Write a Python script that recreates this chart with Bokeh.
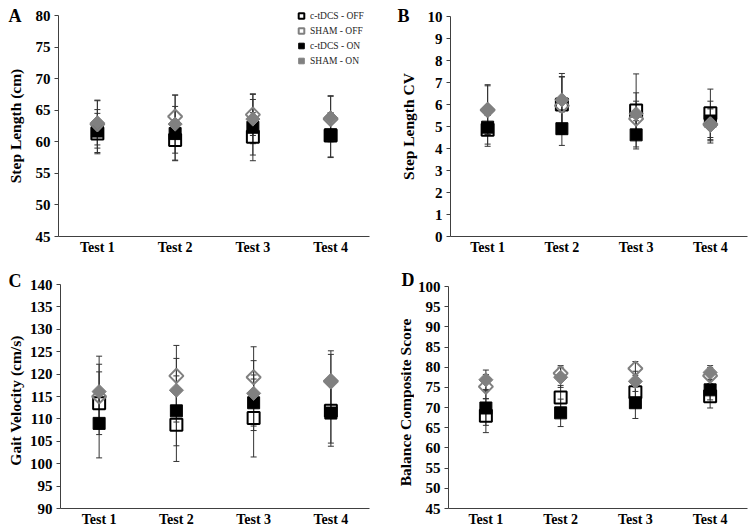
import math
from bokeh.plotting import figure
from bokeh.models import (ColumnDataSource, Whisker, TeeHead, Range1d, FactorRange,
                          SingleIntervalTicker, Legend, LegendItem, Label)
from bokeh.layouts import column, row
from bokeh.embed import file_html
from bokeh.resources import INLINE

tests = ["Test 1", "Test 2", "Test 3", "Test 4"]
series_labels = ["c-tDCS - OFF", "SHAM - OFF", "c-tDCS - ON", "SHAM - ON"]

# Panel A: Step Length (cm)
sl_ctdcs_off = [61.3, 60.3, 60.8, 61.0]
sl_ctdcs_off_sd = [3.2, 3.2, 3.8, 3.5]
sl_sham_off = [62.8, 64.0, 64.3, 63.6]
sl_sham_off_sd = [3.8, 3.4, 3.3, 3.6]
sl_ctdcs_on = [61.7, 61.3, 62.3, 61.1]
sl_ctdcs_on_sd = [3.4, 4.3, 4.4, 3.5]
sl_sham_on = [63.0, 62.8, 63.6, 63.8]
sl_sham_on_sd = [3.5, 4.6, 3.9, 3.5]

# Panel B: Step Length CV
cv_ctdcs_off = [4.85, 6.0, 5.73, 5.6]
cv_ctdcs_off_sd = [0.65, 1.27, 1.66, 1.1]
cv_sham_off = [5.75, 5.95, 5.35, 5.1]
cv_sham_off_sd = [1.1, 1.3, 0.8, 0.7]
cv_ctdcs_on = [4.97, 4.9, 4.62, 5.25]
cv_ctdcs_on_sd = [0.87, 0.76, 0.64, 0.9]
cv_sham_on = [5.77, 6.21, 5.58, 5.05]
cv_sham_on_sd = [1.13, 1.2, 0.95, 0.8]

# Panel C: Gait Velocity (cm/s)
gv_ctdcs_off = [113.5, 108.7, 110.2, 111.8]
gv_ctdcs_off_sd = [7.0, 8.2, 8.7, 7.2]
gv_sham_off = [115.0, 119.6, 119.3, 118.4]
gv_sham_off_sd = [7.2, 6.8, 6.8, 6.0]
gv_ctdcs_on = [109.0, 111.8, 113.6, 111.3]
gv_ctdcs_on_sd = [7.7, 7.8, 6.2, 7.4]
gv_sham_on = [116.1, 116.4, 115.7, 118.5]
gv_sham_on_sd = [7.9, 7.1, 7.3, 6.7]

# Panel D: Balance Composite Score
bcs_ctdcs_off = [68.0, 72.5, 73.8, 72.8]
bcs_ctdcs_off_sd = [4.2, 3.0, 2.2, 2.9]
bcs_sham_off = [75.2, 78.5, 79.7, 77.9]
bcs_sham_off_sd = [3.0, 1.9, 1.7, 2.0]
bcs_ctdcs_on = [69.9, 68.7, 71.2, 74.4]
bcs_ctdcs_on_sd = [4.3, 3.4, 3.9, 2.5]
bcs_sham_on = [76.9, 77.5, 76.5, 78.7]
bcs_sham_on_sd = [2.4, 2.5, 2.5, 1.7]

FONT = "Liberation Serif"
GRAY = "#808080"
BAR = "#333333"

STYLES = {
    "c-tDCS - OFF": dict(marker="square", size=12, angle=0, fill_color="white", fill_alpha=0,
                         line_color="black", line_width=2),
    "SHAM - OFF": dict(marker="square", size=10, angle=math.pi / 4, fill_color="white", fill_alpha=0,
                       line_color=GRAY, line_width=2),
    "c-tDCS - ON": dict(marker="square", size=12, angle=0, fill_color="black",
                        line_color="black", line_width=1),
    "SHAM - ON": dict(marker="square", size=10, angle=math.pi / 4, fill_color=GRAY,
                      line_color=GRAY, line_width=1),
}
DRAW_ORDER = ["c-tDCS - OFF", "c-tDCS - ON", "SHAM - OFF", "SHAM - ON"]


def strip(width, height, letter, letter_xy, ylabel, ylabel_xy):
    """Narrow canvas holding a panel letter and the panel's y-axis title."""
    s = figure(width=width, height=height, x_range=Range1d(0, 1), y_range=Range1d(0, 1),
               output_backend="svg", toolbar_location=None, min_border=0,
               x_axis_type=None, y_axis_type=None)
    s.frame_align = False
    s.outline_line_color = None
    s.background_fill_color = "white"
    s.border_fill_color = "white"
    s.add_layout(Label(x=letter_xy[0], y=letter_xy[1], x_units="screen", y_units="screen",
                       text=letter, text_font=FONT, text_font_style="bold",
                       text_font_size="18px", text_color="black",
                       text_align="left", text_baseline="alphabetic"))
    s.add_layout(Label(x=ylabel_xy[0], y=ylabel_xy[1], x_units="screen", y_units="screen",
                       text=ylabel, angle=math.pi / 2, text_font=FONT, text_font_style="bold",
                       text_font_size="15.5px", text_color="black",
                       text_align="center", text_baseline="middle"))
    return s


def make_panel(ystart, yend, interval, series, width, height,
               bl, br, bt, bb, legend=False, top_extra=0, tick_standoff=4, tick_out=4):
    frame_h = height - bt - bb
    y_top = ystart + (yend - ystart) * frame_h / (frame_h - top_extra)
    p = figure(x_range=FactorRange(factors=tests), y_range=Range1d(ystart, y_top),
               width=width, height=height, output_backend="svg", toolbar_location=None,
               min_border_left=bl, min_border_right=br, min_border_top=bt, min_border_bottom=bb)
    p.frame_align = False
    p.outline_line_color = None
    p.grid.grid_line_color = None
    p.background_fill_color = "white"
    p.border_fill_color = "white"

    p.yaxis.ticker = SingleIntervalTicker(interval=interval)
    p.yaxis.bounds = (ystart, yend)
    p.yaxis.major_label_text_font = FONT
    p.yaxis.major_label_text_font_style = "bold"
    p.yaxis.major_label_text_font_size = "15px"
    p.yaxis.major_label_text_color = "black"
    p.yaxis.major_label_standoff = tick_standoff
    p.yaxis.major_tick_in = 0
    p.yaxis.major_tick_out = tick_out
    p.yaxis.minor_tick_out = 0
    p.yaxis.minor_tick_in = 0

    p.xaxis.major_label_text_font = FONT
    p.xaxis.major_label_text_font_style = "bold"
    p.xaxis.major_label_text_font_size = "14px"
    p.xaxis.major_label_text_color = "black"
    p.xaxis.major_label_standoff = 3
    p.xaxis.major_tick_in = 0
    p.xaxis.major_tick_out = 0
    for ax in (p.xaxis, p.yaxis):
        ax.axis_line_color = "#404040"
        ax.major_tick_line_color = "#404040"

    renderers = {}
    for name in DRAW_ORDER:
        means, sds = series[name]
        src = ColumnDataSource(dict(
            x=tests, y=means,
            upper=[m + s for m, s in zip(means, sds)],
            lower=[m - s for m, s in zip(means, sds)],
        ))
        p.add_layout(Whisker(source=src, base="x", upper="upper", lower="lower",
                             line_color=BAR, line_width=1,
                             upper_head=TeeHead(size=6, line_color=BAR, line_width=1),
                             lower_head=TeeHead(size=6, line_color=BAR, line_width=1)))
    for name in DRAW_ORDER:
        means, sds = series[name]
        src = ColumnDataSource(dict(x=tests, y=means))
        renderers[name] = p.scatter("x", "y", source=src, **STYLES[name])

    if legend:
        items = [LegendItem(label=n, renderers=[renderers[n]]) for n in series_labels]
        p.add_layout(Legend(items=items, location=(236, 168), padding=0, margin=0,
                            spacing=0, glyph_width=14, glyph_height=15, label_height=13,
                            label_standoff=2, label_text_font=FONT, label_text_font_size="9.5px",
                            label_text_color="#262626", border_line_color=None,
                            background_fill_alpha=0))
    return p


H1, H2 = 265, 264

sA = strip(26, H1, "A", (8, H1 - 15), "Step Length (cm)", (15, H1 - 125.5))
pA = make_panel(45, 80, 5, {
    "c-tDCS - OFF": (sl_ctdcs_off, sl_ctdcs_off_sd),
    "SHAM - OFF": (sl_sham_off, sl_sham_off_sd),
    "c-tDCS - ON": (sl_ctdcs_on, sl_ctdcs_on_sd),
    "SHAM - ON": (sl_sham_on, sl_sham_on_sd),
}, 349, H1, 32, 6, 5, 29, legend=True, top_extra=10)

sB = strip(49, H1, "B", (22, H1 - 15), "Step Length CV", (33, H1 - 126))
pB = make_panel(0, 10, 1, {
    "c-tDCS - OFF": (cv_ctdcs_off, cv_ctdcs_off_sd),
    "SHAM - OFF": (cv_sham_off, cv_sham_off_sd),
    "c-tDCS - ON": (cv_ctdcs_on, cv_ctdcs_on_sd),
    "SHAM - ON": (cv_sham_on, cv_sham_on_sd),
}, 324, H1, 24, 1, 16, 29)

sC = strip(26, H2, "C", (8, H2 - 15), "Gait Velocity (cm/s)", (15, H2 - 135))
pC = make_panel(90, 140, 5, {
    "c-tDCS - OFF": (gv_ctdcs_off, gv_ctdcs_off_sd),
    "SHAM - OFF": (gv_sham_off, gv_sham_off_sd),
    "c-tDCS - ON": (gv_ctdcs_on, gv_ctdcs_on_sd),
    "SHAM - ON": (gv_sham_on, gv_sham_on_sd),
}, 349, H2, 32, 6, 19, 20)

sD = strip(39, H2, "D", (26, H2 - 14), "Balance Composite Score", (30, H2 - 137))
pD = make_panel(45, 100, 5, {
    "c-tDCS - OFF": (bcs_ctdcs_off, bcs_ctdcs_off_sd),
    "SHAM - OFF": (bcs_sham_off, bcs_sham_off_sd),
    "c-tDCS - ON": (bcs_ctdcs_on, bcs_ctdcs_on_sd),
    "SHAM - ON": (bcs_sham_on, bcs_sham_on_sd),
}, 334, H2, 30, 1, 21, 19)

layout = column(row(sA, pA, sB, pB), row(sC, pC, sD, pD))

with open("out.html", "w") as f:
    f.write(file_html(layout, INLINE))
